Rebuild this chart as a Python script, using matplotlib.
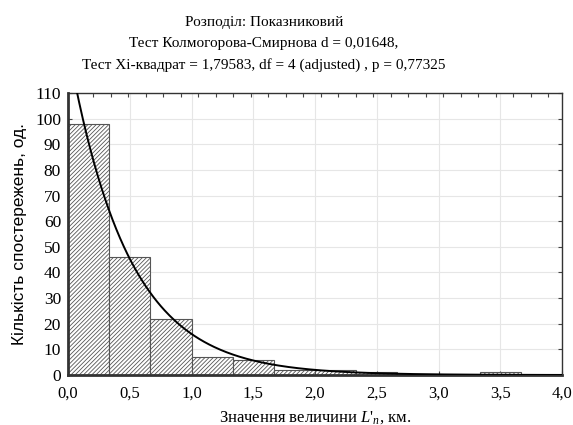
import numpy as np
import matplotlib
matplotlib.use("Agg")
from matplotlib import pyplot as plt
from matplotlib.ticker import FixedLocator, FuncFormatter

# histogram of observed values (bin width 1/3 km)
bin_edges = [0, 1/3, 2/3, 1.0, 4/3, 5/3, 2.0, 7/3, 8/3, 3.0, 10/3, 11/3, 4.0]
counts = [98, 46, 22, 7, 6, 2, 2, 1, 0, 0, 1, 0]

# fitted exponential distribution
rate = 2.08
n_total = sum(counts)
bin_width = 1 / 3

title_lines = [
    "Розподіл: Показниковий",
    "Тест Колмогорова-Смирнова d = 0,01648,",
    "Тест Xi-квадрат = 1,79583, df = 4 (adjusted) , p = 0,77325",
]
xticks = [0, 0.5, 1.0, 1.5, 2.0, 2.5, 3.0, 3.5, 4.0]
yticks = list(range(0, 111, 10))

plt.rcParams["font.family"] = ["Liberation Serif", "DejaVu Serif"]
plt.rcParams["mathtext.fontset"] = "custom"
plt.rcParams["mathtext.rm"] = "Liberation Serif"
plt.rcParams["mathtext.it"] = "Liberation Serif:italic"
plt.rcParams["hatch.color"] = "#555555"
plt.rcParams["hatch.linewidth"] = 0.6

fig = plt.figure(figsize=(5.73, 4.25), dpi=100)
ax = fig.add_axes([0.1187, 0.1176, 0.8622, 0.6635])

lefts = bin_edges[:-1]
ax.bar(lefts, counts, width=np.diff(bin_edges), align="edge",
       color="white", edgecolor="#555555", hatch="////////", linewidth=0.8, zorder=2)

xs = np.linspace(0, 4, 400)
ax.plot(xs, n_total * bin_width * rate * np.exp(-rate * xs), color="black", lw=1.4, zorder=3)

ax.set_xlim(0, 4)
ax.set_ylim(0, 110)
ax.set_xticks(xticks)
ax.set_yticks(yticks)
ax.xaxis.set_major_formatter(FuncFormatter(lambda v, p: f"{v:.1f}".replace(".", ",")))
ax.grid(True, color="#e6e6e6", lw=0.8, zorder=0)
ax.tick_params(axis="both", direction="in", length=3, color="#444444",
               right=True, top=False)
ax.tick_params(axis="x", labelsize=12, pad=8)
ax.tick_params(axis="y", labelsize=12.5, pad=5)

# secondary ticks along the top edge
top = ax.secondary_xaxis("top")
top.xaxis.set_major_locator(FixedLocator(np.arange(0.205, 4.0, 0.1417)))
top.tick_params(direction="in", length=3, labeltop=False, color="#444444")

for side in ["left", "bottom"]:
    ax.spines[side].set_linewidth(2.0)
for side in ["right", "top"]:
    ax.spines[side].set_linewidth(1.0)
for s in ax.spines.values():
    s.set_color("#333333")
top.spines["top"].set_visible(False)

ax.set_ylabel("Кількість спостережень, од.", fontsize=12.5,
              family=["Liberation Sans Narrow", "Liberation Sans", "DejaVu Sans"], labelpad=6)
ax.set_xlabel("Значення величини $\\mathit{L}$'$_{\\mathit{n}}$, км.", fontsize=12, labelpad=5)

for i, line in enumerate(title_lines):
    fig.text(0.461, 0.948 - i * 0.05, line, ha="center", va="center", fontsize=11)

fig.savefig("out.png", dpi=100)
